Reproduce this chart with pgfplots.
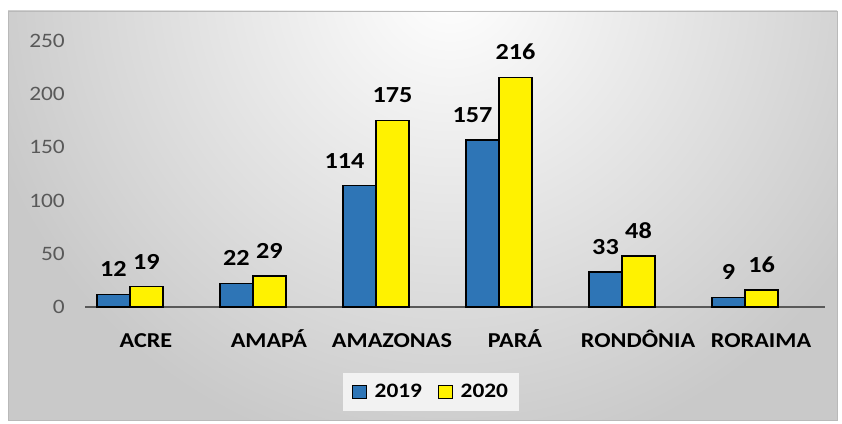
\documentclass[border=0pt]{standalone}
\usepackage{pgfplots}
\pgfplotsset{compat=1.18}
\usepackage{fontspec}
\setmainfont{Carlito}[FakeStretch=1.14]
\definecolor{bblue}{HTML}{2E75B6}
\definecolor{tickgray}{HTML}{595959}
\newcommand{\fs}{\fontsize{20.5}{24}\selectfont}
\newcommand{\fc}{\fontsize{21.2}{24}\selectfont}
\newcommand{\fd}{\fontsize{23}{26}\selectfont}
\begin{document}
\begin{tikzpicture}[x=1pt,y=1pt]
\path (0,0) rectangle (842,423);
\begin{scope}
\clip (8,3) rectangle (837,412);
\fill[gray!42] (8,3) rectangle (837,412);
\shade[inner color=white, outer color=gray!42] (450,440) circle (480);
\end{scope}
\draw[gray!55, line width=0.8pt] (8,3) rectangle (837,412);
\begin{axis}[
  at={(85pt,116pt)}, anchor=south west,
  scale only axis, width=740pt, height=266pt,
  xmin=-0.365, xmax=5.65, ymin=0, ymax=250,
  ybar=0pt, bar width=33pt,
  axis lines=left, axis line style={-},
  x axis line style={draw=tickgray, line width=2.5pt},
  y axis line style={draw=none},
  major tick length=0pt,
  xtick={0,...,5},
  xticklabels={ACRE,AMAPÁ,AMAZONAS,PARÁ,RONDÔNIA,RORAIMA},
  ytick={0,50,...,250},
  /pgf/number format/assume math mode=true,
  yticklabel style={font=\fs, text=tickgray, anchor=east, inner sep=0pt, xshift=-20pt},
  xticklabel style={font=\fc\bfseries, text=black, anchor=base, inner sep=0pt, yshift=-40pt, xshift=16pt},
  nodes near coords,
  visualization depends on={\thisrow{s}\as\xs},
  every node near coord/.append style={font=\fd\bfseries, text=black, anchor=south, inner sep=0pt, yshift=17pt, xshift=\xs pt},
  legend style={at={(axis description cs:0.4676,-0.3195)}, anchor=center, draw=none, fill=gray!10,
    legend columns=2, font=\fs\bfseries, inner xsep=9pt, inner ysep=10pt,
    /tikz/every even column/.append style={column sep=14pt}},
  legend cell align=left,
]
\addplot[fill=bblue, draw=black, line width=1.3pt,
  legend image code/.code={\draw[fill=bblue, draw=black, line width=1.3pt] (0pt,-6.5pt) rectangle (14pt,6.5pt); \path[draw=none, fill=none] (0pt,0pt) -- (20pt,0pt);}]
  table[x=x, y=y] {
x y s
0 12 0
1 22 0
2 114 -15
3 157 -10
4 33 0
5 9 0
};
\addplot[fill=yellow, draw=black, line width=1.3pt,
  legend image code/.code={\draw[fill=yellow, draw=black, line width=1.3pt] (0pt,-6.5pt) rectangle (14pt,6.5pt); \path[draw=none, fill=none] (0pt,0pt) -- (20pt,0pt);}]
  table[x=x, y=y] {
x y s
0 19 0
1 29 0
2 175 0
3 216 0
4 48 0
5 16 0
};
\legend{2019,2020}
\end{axis}
\end{tikzpicture}
\end{document}
